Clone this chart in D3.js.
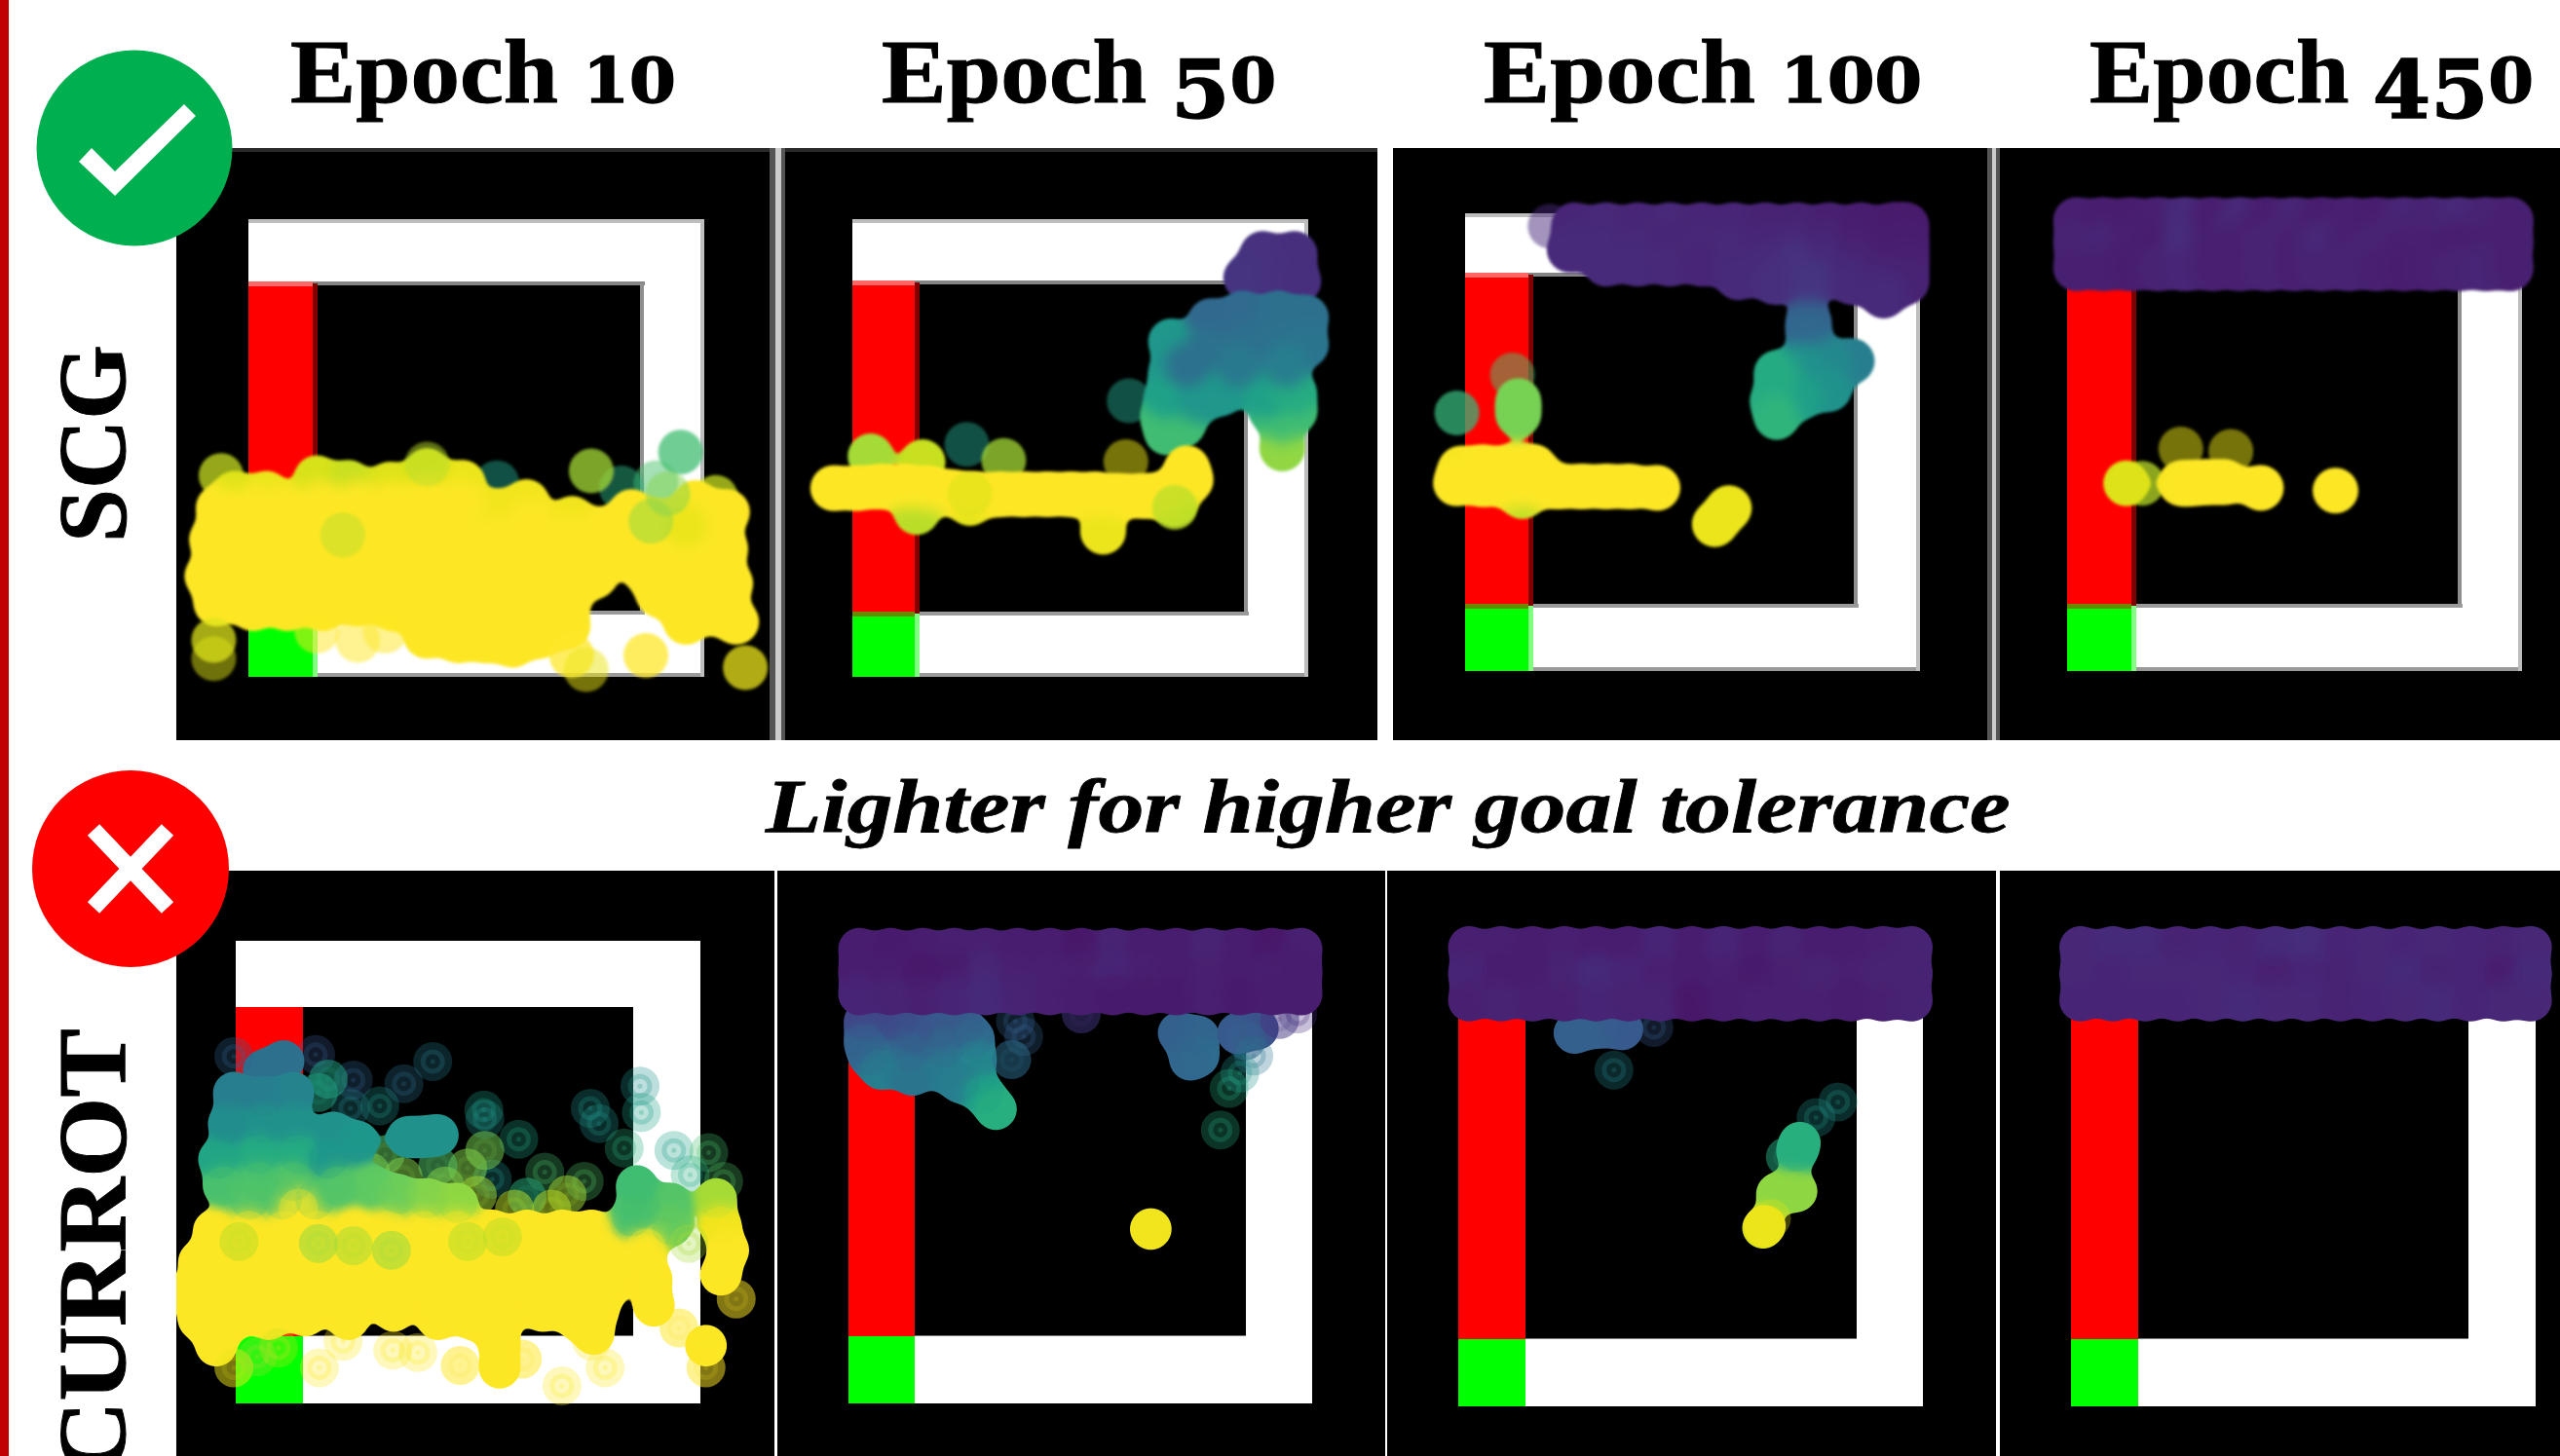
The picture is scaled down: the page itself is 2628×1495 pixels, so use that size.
<!DOCTYPE html>
<html><head><meta charset="utf-8">
<script src="https://cdn.jsdelivr.net/npm/d3@7"></script>
<style>html,body{margin:0;padding:0;background:#fff;overflow:hidden}svg{display:block}</style>
</head><body><svg id="c" width="2628" height="1495"></svg>
<script>
const epochLabels = ["Epoch 10","Epoch 50","Epoch 100","Epoch 450"];
const methodLabels = ["SCG","CURROT"];
const noteLabel = "Lighter for higher goal tolerance";

// each point: [x, y, goal tolerance colour value, number of rollouts at the spot]; x/y in percent of the maze
const scg10 = [
[94.8,50.9,.68,2],[89.4,57.6,.7,1],[81.8,58.7,.62,1],[54.5,57.6,.55,1],[75.2,55,.85,2],[102.5,60.8,.9,2],
[-6,56,.9,2],[-3,60,.93,3],[4,60,.95,4],[15,56.6,.92,3],[22,57.6,.9,3],[39.2,55,.92,3],[31,58,.93,3],[47,57.6,.95,3],[54.5,63.9,.96,4],[61,61.8,.96,4],[71,65.5,.96,4],
[-6.5,63,.98,5],[1,63,.98,5],[8.6,63,.98,5],[16.3,62,.98,5],[24,62,.98,5],[31.5,62,.98,5],[39,61,.98,5],[46.8,62,.98,5],[62,66,.98,5],[77.5,68,.98,4],
[-8,70,.98,5],[1,70,.98,5],[8.6,70,.98,5],[16.3,70,.98,5],[24,70,.98,5],[31.5,70,.98,5],[39,70,.98,5],[46.8,70,.98,5],[54.5,70,.98,5],[62,70,.98,5],[70,70,.98,5],[77.5,72,.98,5],
[-9,78,.98,5],[1,78,.98,5],[8.6,78,.98,5],[16.3,78,.98,5],[24,78,.98,5],[31.5,78,.98,5],[39,78,.98,5],[46.8,78,.98,5],[54.5,78,.98,5],[62,78,.98,5],[70,78,.98,5],[76,78,.98,5],
[-7,84,.98,4],[1,85,.98,5],[8.6,85,.98,5],[16.3,85,.98,4],[24,84,.98,4],[31.5,85,.98,4],[39,85,.98,5],[46.8,86,.98,5],[54.5,86,.98,5],[62,87,.98,5],[70,84,.98,5],
[39,91,.98,4],[46,92,.98,4],[52,92,.98,4],[58,93,.98,4],[64,91,.98,4],[70,89,.98,4],
[84,64,.98,4],[90,66,.98,4],[98,62,.98,3],[105,64,.98,4],[88,69,.98,4],[84,73,.98,4],[90.5,72,.98,3],[98,69,.98,3],[104.6,72,.98,4],[105.7,79.6,.98,4],[92,77,.98,4],[98,74,.98,4],[90,82,.98,4],[98,80,.98,4],[102.5,85.9,.98,3],[107,88,.98,3],[96,88,.98,3],[96,67,.95,3],[87.2,77,.98,3],
[70.9,95.3,.98,2],[87.2,95.3,.98,2],[74.1,98.4,.95,1],[109,98,.95,2],[-7.6,92,.93,2],[-7.6,96,.93,1],[24,92,.98,1],[15,90,.98,1],[30,90,.98,1],
[20.7,69,.88,1],[88.3,66,.82,1],[39.2,53.5,.88,1],[92,60,.8,1]
];
const scg50 = [
[90,7.6,.13,4],[97,7.6,.12,4],[86.4,12.8,.14,4],[93.4,12.8,.13,4],[97.8,13.6,.12,4],
[60.7,39.7,.55,1],[69,46.6,.68,4],[68.1,43.2,.68,4],[72.5,44.9,.68,4],[94.3,50.1,.82,5],[94.3,44,.68,4],[92,42,.68,4],[97,42,.68,4],
[69.9,26.7,.52,4],[69.9,33.6,.52,4],[69,38.8,.56,4],[76,39.7,.52,4],[90.8,38.8,.56,4],[96.9,38,.6,4],[81,38,.52,4],
[78.6,22.3,.33,4],[85.6,20.6,.34,4],[93.4,20.6,.36,4],[99.5,21.5,.36,4],[78,28.4,.37,4],[86.4,27.5,.36,4],[94.3,27.5,.37,4],[99.5,27.5,.38,4],[73.4,31.9,.37,3],[84.7,31.9,.4,4],[95.2,31.9,.42,4],
[25.1,49.2,.55,1],[4,51.8,.85,3],[15.4,53.1,.9,3],[33.2,52.7,.85,2],[60,53,.95,1],[14.1,64,.88,3],[25.8,62,.93,3],[55,68.3,.95,3],[70.7,62.3,.9,4],
[-4.2,58.8,.98,6],[1,58.8,.98,6],[6.2,58.4,.98,6],[11.4,58.4,.98,6],[16.7,58.8,.98,6],[21.9,59.7,.98,6],[27.1,60.1,.98,6],[32.4,60.1,.98,6],[37.6,60.1,.98,6],[42.8,60.1,.98,6],[48,60.1,.98,6],[53.3,60.1,.98,6],[58.5,60.5,.98,6],[63.8,60.5,.98,6],[69,60,.98,6],[73.4,54.4,.98,6],[74.2,57,.98,6],
[25.8,60,.92,1],[70.7,63,.88,2]
];
const scg100 = [
[18.7,2.8,.1,1],[23,8,.1,3],[24,2.6,.08,3],[24,7,.1,3],[31,2.6,.09,3],[31,7,.1,3],[31,11,.1,3],[38,2.6,.08,3],[38,7,.09,3],[38,11,.1,3],[45,2.6,.09,3],[45,7,.08,3],[45,11,.09,3],[52,2.6,.08,3],[52,7,.09,3],[52,11,.08,3],[59,2.6,.08,3],[59,7,.09,3],[59,11,.09,3],[66,2.6,.07,3],[66,7,.08,3],[66,11,.1,3],[73,2.6,.07,3],[73,7,.09,3],[73,11,.13,3],[80,2.6,.06,3],[80,7,.08,3],[80,11,.1,3],[87,2.6,.05,3],[87,7,.06,3],[87,11,.07,3],[94,2.6,.04,3],[94,7,.05,3],[94,11,.06,3],[97,2.6,.04,3],[97,7,.05,3],[97,11,.06,3],
[60,14,.1,3],[68,15,.12,3],[76,15,.14,3],[85,15,.1,3],[92,15,.08,3],[97,15,.07,3],[92,18,.1,3],
[75.5,23.6,.3,4],[75.5,26,.33,4],
[85,32.3,.42,4],[80,32.3,.46,4],[73.8,33.2,.5,4],[80,38.4,.5,4],[73.8,40.1,.55,4],[68.5,34.9,.6,4],[67.6,41,.6,4],[68.5,44.5,.64,4],
[10.4,35.3,.7,1],[-1.8,43.6,.65,2],[11.7,44,.78,4],[11.7,41,.78,4],
[12.6,61.8,.88,3],
[-1,55.8,.97,5],[3.9,55.5,.98,6],[10,55.5,.98,6],[15.2,55.5,.98,6],[-2,59,.98,6],[3.9,59.2,.98,6],[10,59.7,.98,6],[15.2,59.7,.98,6],[20.5,59.7,.98,6],[25.7,59.7,.98,6],[31,59.7,.98,6],[36.2,59.7,.98,6],[42.3,60,.98,6],
[58,64.4,.95,4],[54.9,67.9,.95,4]
];
const scg450 = [
[2,1.5,.06,4],[2,6.5,.07,4],[2,12,.06,4],[8,1.5,.05,4],[8,6.5,.08,4],[8,12,.06,4],[14,1.5,.05,4],[14,6.5,.06,4],[14,12,.05,4],[20,1.5,.06,4],[20,6.5,.05,4],[20,12,.07,4],
[26,1.5,.1,4],[26,6.5,.11,4],[26,12,.08,4],[32,1.5,.05,4],[32,6.5,.06,4],[32,12,.06,4],[38,1.5,.09,4],[38,6.5,.06,4],[38,12,.06,4],[44,1.5,.05,4],[44,6.5,.07,4],[44,12,.07,4],
[50,1.5,.08,4],[50,6.5,.06,4],[50,12,.06,4],[56,1.5,.05,4],[56,6.5,.09,4],[56,12,.07,4],[62,1.5,.06,4],[62,6.5,.06,4],[62,12,.07,4],[68,1.5,.05,4],[68,6.5,.07,4],[68,12,.06,4],
[74,1.5,.08,4],[74,6.5,.06,4],[74,12,.05,4],[80,1.5,.07,4],[80,6.5,.06,4],[80,12,.06,4],[86,1.5,.09,4],[86,6.5,.05,4],[86,12,.07,4],[92,1.5,.07,4],[92,6.5,.06,4],[92,12,.08,4],[97.5,1.5,.06,4],[97.5,6.5,.06,4],[97.5,12,.06,4],
[25,51.5,.95,1],[36,52,.95,1],[16.5,59,.88,2],[13,59,.93,6],
[25,59,.97,3],[30.6,58.7,.98,6],[34.7,58.7,.98,6],[42.6,60,.98,6],[59,60.6,.98,7],[27,59,.98,5]
];
const currot10 = [
[17.2,24.6,.28,1],[42.4,26.1,.4,1],[36.2,30.9,.36,1],[25.3,30.1,.32,1],[31,35.7,.5,1],[24.7,36.2,.45,1],[53.4,36.6,.55,1],[53.6,38.6,.5,1],[60.9,42.9,.58,1],[76.3,36.2,.5,1],[78.2,39.5,.5,1],[87,31.4,.5,1],[87.3,37.1,.55,1],[83.6,44.8,.62,1],[94.3,45.3,.55,1],[101.8,45.8,.7,1],[97.8,50.6,.6,1],[105,52,.72,1],[66.5,50,.7,1],[75,52,.72,1],[55.2,51.5,.5,1],
[62.7,55.4,.62,2],[71.3,54.9,.85,2],[53.6,45.3,.78,2],[49.9,49.1,.8,2],[43.5,48.6,.72,2],[32.2,46.2,.75,2],[15.6,43.4,.78,1],[.7,43.8,.72,2],[19.9,29.9,.58,2],[17.8,32.8,.58,2],
[22,48,.72,2],[29,50,.78,2],[36,51,.8,2],[45,53,.8,2],[52,55,.85,2],[60,58,.88,2],[68,58,.88,2],
[6,28,.36,3],[10.3,26,.36,3],[-.4,25,.32,1],[-.4,32.8,.42,4],[6,33.8,.42,4],[12.4,32.8,.44,4],[-1.5,39.5,.48,4],[6,39.5,.5,4],[12.4,39.5,.5,4],[21,41.4,.5,3],[26.3,43.4,.52,3],[-3.6,47.2,.58,3],[4.9,46.2,.6,4],[13.5,46.2,.6,4],[19.9,47.2,.52,3],[40.3,42.4,.5,3],[43.5,42,.5,3],[37,42.4,.5,3],
[-2.6,53,.7,4],[5,52,.7,4],[12.4,52,.72,4],[3,56,.72,3],[10,56,.72,3],[17,56,.72,3],[22,53,.72,3],[29.5,53,.74,3],[34.9,54.9,.76,3],[41.3,55.8,.8,3],[47.7,56.8,.82,3],
[86.3,53,.68,3],[87.3,57.8,.68,3],[93.7,56.8,.72,3],[85.2,59.7,.7,3],[93.7,61.6,.75,3],[103.4,55.8,.85,3],
[13.5,57.8,.98,6],[-4.7,62.6,.98,5],[2.8,62.6,.98,4],[10.3,62.6,.98,6],[17.8,62.6,.98,5],[25.3,62.6,.98,5],[32.8,62.6,.98,5],[40.3,62.6,.98,6],[47.7,62.6,.98,6],[55.2,62.6,.98,6],[62.7,62.6,.98,6],[70.2,62.6,.98,6],[76.6,62.6,.98,6],
[-7.9,69.3,.98,5],[-.4,69.3,.98,6],[7.1,69.3,.98,6],[14.6,69.3,.98,6],[22,69.3,.98,6],[29.5,69.3,.98,6],[37,69.3,.98,6],[44.5,69.3,.98,6],[52,69.3,.98,6],[59.4,69.3,.98,6],[67,69.3,.98,6],[74.4,69.3,.98,6],[79,67,.98,5],[82,69,.98,4],
[-10,76,.98,6],[-2.5,76,.98,6],[5,76,.98,6],[12.5,76,.98,6],[20,76,.98,6],[27.5,76,.98,6],[35,76,.98,6],[42.5,76,.98,6],[50,76,.98,6],[57.5,76,.98,6],[65,76,.98,6],[72.5,76,.98,6],[80,75,.98,4],
[-8,81.8,.98,4],[-.4,81.8,.98,6],[7.1,81.8,.98,6],[24.2,81.8,.98,4],[15,81,.98,4],[34,80,.98,4],[43.5,81.8,.98,4],[51,81.8,.98,5],[57.4,81.8,.98,5],[66,80,.98,4],[73.4,81.8,.98,5],[78,80,.98,4],[77,85,.98,4],
[-4.2,87.5,.98,3],[88.4,66.4,.98,3],[89.5,73.1,.98,3],[90,78.9,.98,3],[104.4,61.6,.96,4],[106,66.9,.98,3],[104.4,72.2,.98,3],[101.2,87.5,.98,3],[56.8,92.3,.98,3],[56.8,87.5,.98,3],
[-.4,92.3,.95,2],[4.6,89.9,.85,1],[9.2,88,.9,1],[18,92.3,.98,1],[23.1,86.6,.98,1],[33.8,88.5,.98,1],[39.2,89,.98,1],[48.3,91.8,.98,2],[70.2,96.2,.98,1],[79.5,92.3,.98,1],[61.7,90.4,.98,2],[76.6,86.6,.98,1],[95.4,83.7,.98,2],[101.2,92.3,.98,2],[107.7,77.4,.98,2],[97.5,65.4,.85,1],
[17.8,65.4,.82,2],[25.3,65.9,.85,2],[33.5,66.9,.82,2],[49.9,65,.87,2],[.7,65,.88,2],[57.4,64,.88,2]
];
const currot50 = [
[3.5,17.4,.2,3],[10.4,17.4,.22,3],[19,19,.27,3],[25,19,.27,3],[14,20,.25,3],[3.5,22,.3,3],[27,21,.33,3],[10,27,.38,3],[4.4,24.9,.32,3],[13,24,.32,3],[20.7,23.2,.33,3],[7,27.7,.42,3],[13.8,29,.38,3],[20.7,28.2,.4,3],[27.5,25.7,.45,4],[24.1,30.6,.42,3],[29.2,33.1,.55,5],[31.8,36.4,.62,7],
[36,17.4,.3,1],[37.8,20.7,.3,1],[35.2,25.7,.35,2],[71.2,19.9,.3,3],[75.5,20.7,.32,3],[75.5,24.9,.35,3],[73.7,25.7,.33,3],[50.2,15.8,.15,2],[88.3,19,.25,3],[84,20,.28,3],[85.7,21.6,.3,2],[87.4,24.9,.38,1],[84.4,28.6,.5,1],[96.9,15.8,.1,1],[93,17,.15,2],
[82.1,31.9,.6,1],[80.2,40.9,.6,1],[65.2,62.3,.96,12],
[2.3,1.7,.05,6],[2.3,6.7,.05,6],[2.3,11.6,.08,6],[9.1,1.7,.04,6],[9.1,6.7,.05,6],[9.1,11.6,.07,6],[16,1.7,.05,6],[16,6.7,.03,6],[16,11.6,.06,6],[22.8,1.7,.06,6],[22.8,6.7,.04,6],[22.8,11.6,.08,6],[29.6,1.7,.06,6],[29.6,6.7,.09,6],[29.6,11.6,.1,6],[36.5,1.7,.05,6],[36.5,6.7,.06,6],[36.5,11.6,.07,6],[43.4,1.7,.05,6],[43.4,6.7,.06,6],[43.4,11.6,.06,6],[50.2,1.7,.03,6],[50.2,6.7,.06,6],[50.2,11.6,.05,6],[57,1.7,.07,6],[57,6.7,.08,6],[57,11.6,.04,6],[63.9,1.7,.05,6],[63.9,6.7,.06,6],[63.9,11.6,.04,6],[70.7,1.7,.05,6],[70.7,6.7,.05,6],[70.7,11.6,.04,6],[77.6,1.7,.07,6],[77.6,6.7,.06,6],[77.6,11.6,.06,6],[84.4,1.7,.05,6],[84.4,6.7,.05,6],[84.4,11.6,.04,6],[91.3,1.7,.03,6],[91.3,6.7,.06,6],[91.3,11.6,.05,6],[97.7,1.7,.06,6],[97.7,6.7,.05,6],[97.7,11.6,.05,6]
];
const currot100 = [
[25,19.3,.3,3],[30.1,18.1,.3,3],[35.3,18.5,.28,3],[42.1,18.1,.28,1],[33.5,27.3,.45,1],[81.7,34.2,.5,1],[77,37.6,.5,1],[70.4,46.1,.6,2],[72.9,44.9,.62,5],[73.5,43,.62,3],
[68.6,54,.82,6],[70.5,53.5,.82,5],[72.8,53.5,.82,4],[65.6,61.4,.93,4],[67.4,59.4,.93,1],[66,61,.95,3],
[2.3,.7,.06,6],[2.3,6.5,.08,6],[2.3,12.3,.06,6],[9.2,.7,.06,6],[9.2,6.5,.05,6],[9.2,12.3,.07,6],[16,.7,.05,6],[16,6.5,.05,6],[16,12.3,.06,6],[22.9,.7,.06,6],[22.9,6.5,.07,6],[22.9,12.3,.06,6],[29.7,.7,.05,6],[29.7,6.5,.1,6],[29.7,12.3,.08,6],[36.6,.7,.05,6],[36.6,6.5,.08,6],[36.6,12.3,.07,6],[43.4,.7,.08,6],[43.4,6.5,.06,6],[43.4,12.3,.07,6],[50.3,.7,.05,6],[50.3,6.5,.05,6],[50.3,12.3,.03,6],[57.1,.7,.08,6],[57.1,6.5,.06,6],[57.1,12.3,.05,6],[64,.7,.05,6],[64,6.5,.04,6],[64,12.3,.06,6],[70.8,.7,.07,6],[70.8,6.5,.06,6],[70.8,12.3,.06,6],[77.7,.7,.05,6],[77.7,6.5,.07,6],[77.7,12.3,.06,6],[84.5,.7,.05,6],[84.5,6.5,.06,6],[84.5,12.3,.05,6],[91.4,.7,.06,6],[91.4,6.5,.07,6],[91.4,12.3,.06,6],[97.6,.7,.07,6],[97.6,6.5,.07,6],[97.6,12.3,.07,6]
];
const currot450 = [
[2,.7,.09,6],[2,6.5,.09,6],[2,12.3,.08,6],[9,.7,.1,6],[9,6.5,.08,6],[9,12.3,.08,6],[16,.7,.1,6],[16,6.5,.09,6],[16,12.3,.08,6],[23,.7,.07,6],[23,6.5,.09,6],[23,12.3,.08,6],[30,.7,.08,6],[30,6.5,.09,6],[30,12.3,.09,6],[37,.7,.07,6],[37,6.5,.08,6],[37,12.3,.1,6],[44,.7,.1,6],[44,6.5,.06,6],[44,12.3,.09,6],[51,.7,.11,6],[51,6.5,.08,6],[51,12.3,.09,6],[58,.7,.08,6],[58,6.5,.07,6],[58,12.3,.07,6],[65,.7,.09,6],[65,6.5,.09,6],[65,12.3,.08,6],[72,.7,.08,6],[72,6.5,.1,6],[72,12.3,.09,6],[79,.7,.09,6],[79,6.5,.07,6],[79,12.3,.1,6],[86,.7,.08,6],[86,6.5,.08,6],[86,12.3,.08,6],[93,.7,.07,6],[93,6.5,.05,6],[93,12.3,.09,6],[99,.7,.09,6],[99,6.5,.1,6],[99,12.3,.09,6]
];

const svg = d3.select("#c");
const defs = svg.append("defs");
defs.append("filter").attr("id","soft").attr("x","-30%").attr("y","-30%").attr("width","160%").attr("height","160%")
  .append("feGaussianBlur").attr("stdDeviation",1.8);
// merges neighbouring discs of one dense run into the continuous blob the reference shows
function gooFilter(id,finalBlur){
  const f=defs.append("filter").attr("id",id).attr("x","-30%").attr("y","-30%").attr("width","160%").attr("height","160%")
    .attr("color-interpolation-filters","sRGB");
  f.append("feGaussianBlur").attr("in","SourceGraphic").attr("stdDeviation",7).attr("result","b");
  f.append("feColorMatrix").attr("in","b").attr("type","matrix").attr("values","1 0 0 0 0  0 1 0 0 0  0 0 1 0 0  0 0 0 18 -7").attr("result","g");
  f.append("feGaussianBlur").attr("in","g").attr("stdDeviation",finalBlur);
}
gooFilter("gooLow",1.8);
gooFilter("gooHigh",0.7);

svg.append("rect").attr("x",0).attr("y",0).attr("width",9).attr("height",1495).attr("fill","#c00000");

const layouts = [
 {pts:scg10,   row:0, box:[181,152,790,760],  maze:[255,225,723,695],  inner:[321,291,658,629]},
 {pts:scg50,   row:0, box:[806,152,1414,760], maze:[875,225,1343,695], inner:[939,290,1278,630]},
 {pts:scg100,  row:0, box:[1430,152,2040,760],maze:[1504,219,1971,689],inner:[1569,282,1904,622]},
 {pts:scg450,  row:0, box:[2053,152,2628,760],maze:[2122,219,2589,689],inner:[2188,282,2524,622]},
 {pts:currot10,row:1, box:[181,894,795,1495], maze:[242,966,719,1441], inner:[311,1034,650,1372]},
 {pts:currot50,row:1, box:[798,894,1422,1495],maze:[871,966,1347,1441],inner:[939,1034,1279,1372]},
 {pts:currot100,row:1,box:[1424,894,2049,1495],maze:[1497,969,1974,1444],inner:[1566,1036,1906,1375]},
 {pts:currot450,row:1,box:[2053,894,2628,1495],maze:[2126,969,2603,1444],inner:[2195,1036,2534,1375]}
];

// seams between the stitched frames of the top row
[[790,6,"#555"],[796,6,"#ccc"],[802,5,"#555"],[2040,5,"#555"],[2045,4,"#ccc"],[2049,5,"#555"]].forEach(([x,w,c])=>{
  svg.append("rect").attr("x",x).attr("y",152).attr("width",w).attr("height",608).attr("fill",c);
});

function rect(g,x0,y0,x1,y1,f){return g.append("rect").attr("x",x0).attr("y",y0).attr("width",x1-x0).attr("height",y1-y0).attr("fill",f);}

const tone=d3.scaleLinear().domain([0,.2,.98]).range([.04,.2,1]).clamp(true);
layouts.forEach((p,i)=>{
  const [bx0,by0,bx1,by1]=p.box, [mx0,my0,mx1,my1]=p.maze, [ix0,iy0,ix1,iy1]=p.inner;
  const x=d3.scaleLinear().domain([0,100]).range([mx0,mx1]);
  const y=d3.scaleLinear().domain([0,100]).range([my0,my1]);
  const low = p.row===0;
  defs.append("clipPath").attr("id","clip"+i).append("rect").attr("x",bx0).attr("y",by0).attr("width",bx1-bx0).attr("height",by1-by0);
  const g=svg.append("g").attr("clip-path","url(#clip"+i+")");
  rect(g,bx0,by0,bx1,by1,"#000");
  if(low && i!==2 && i!==3) rect(g,bx0,by0,bx1,by0+4,"#2a2a2a");
  // white corridor
  rect(g,mx0,my0,mx1,iy0,"#fff");
  rect(g,ix1,my0,mx1,my1,"#fff");
  rect(g,ix0,iy1,mx1,my1,"#fff");
  rect(g,mx0,iy0,ix0,iy1,"#f00");
  rect(g,mx0,iy1,ix0,my1,"#0f0");
  if(low){
    const e=4;
    rect(g,mx0,my0,mx1,my0+e,"#bdbdbd");
    rect(g,ix0,iy0-2,ix1+e,iy0+2,"#858585");
    rect(g,ix1-1,iy0,ix1+e-1,iy1,"#8f8f8f");
    rect(g,ix0,iy1-2,ix1+e,iy1+2,"#9a9a9a");
    rect(g,ix0,my1-e,mx1,my1,"#9a9a9a");
    rect(g,mx1-e,my0,mx1,my1,"#bdbdbd");
    rect(g,ix0,iy0,ix0+5,iy1,"#800000");
    rect(g,ix0,iy1,ix0+5,my1,"#80ff80");
    rect(g,mx0,iy0-2,ix0,iy0+3,"#ff6666");
    rect(g,mx0,iy1-2,ix0,iy1+3,"#6b8a00");
  } else {
    rect(g,ix0,iy1-1,ix1,iy1,"#777");
  }
  const alpha=low?0.5:0.3, R=low?23:20, RD=low?23:21;
  const op=n=>1-Math.pow(1-alpha,n);
  const col=d=>d3.interpolateViridis(tone(d[2]));
  // consecutive dense points form one blob, thin points stay single discs, array order is kept
  const runs=[];
  p.pts.forEach(d=>{
    const dense=d[3]>=3, last=runs[runs.length-1];
    if(last && last.dense===dense) last.items.push(d); else runs.push({dense,items:[d]});
  });
  runs.forEach(run=>{
    if(run.dense){
      const b=g.append("g").attr("filter",`url(#${low?"gooLow":"gooHigh"})`);
      b.selectAll("circle").data(run.items).join("circle")
        .attr("cx",d=>x(d[0])).attr("cy",d=>y(d[1])).attr("r",RD).attr("fill",col);
      if(!low){
        g.append("g").selectAll("circle").data(run.items).join("circle")
          .attr("cx",d=>x(d[0])).attr("cy",d=>y(d[1])).attr("r",RD-1).attr("fill",col).attr("fill-opacity",.3);
      }
    } else {
      const m=g.append("g");
      if(low) m.attr("filter","url(#soft)");
      run.items.forEach(d=>{
        const s=m.append("g").attr("transform",`translate(${x(d[0])},${y(d[1])})`);
        s.append("circle").attr("r",R).attr("fill",col(d)).attr("fill-opacity",op(d[3]));
        if(!low){
          const ring=d[3]===1?.9:.3;
          s.append("circle").attr("r",10).attr("fill","none").attr("stroke",col(d)).attr("stroke-width",5).attr("stroke-opacity",op(d[3])*ring);
          s.append("circle").attr("r",2.5).attr("fill",col(d)).attr("fill-opacity",op(d[3])*ring);
        }
      });
    }
  });
});

// labels: the old-style figures of the reference are imitated with smaller / dropped digits
function fit(t,x,y,w,rot){
  const n=t.node().getComputedTextLength();
  t.attr("transform",`translate(${x},${y})`+(rot?" rotate(-90)":"")+` scale(${w/n},1)`);
}
function epochText(label,x0,x1,base){
  const t=svg.append("text").attr("x",0).attr("y",0).attr("fill","#000").attr("stroke","#000").attr("stroke-width",1)
    .attr("font-family","'Liberation Serif'").attr("font-weight",700).attr("font-size",94);
  const [word,num]=label.split(" ");
  t.append("tspan").text(word+" ");
  let shift=0;
  [...num].forEach(ch=>{
    const drop=(ch==="5"||ch==="4");
    const target=drop?16:0;
    t.append("tspan").attr("dy",target-shift).attr("font-family","'DejaVu Serif'")
      .attr("font-size",drop?82:64).attr("stroke-width",1.5).text(ch);
    shift=target;
  });
  fit(t,x0,base,x1-x0,false);
}
const epochSpans=[[298,694],[905,1310],[1523,1973],[2145,2601]];
epochLabels.forEach((l,i)=>epochText(l,epochSpans[i][0],epochSpans[i][1],105));

const note=svg.append("text").attr("fill","#000").attr("stroke","#000").attr("stroke-width",.8)
  .attr("font-family","'Liberation Serif'").attr("font-weight",700).attr("font-style","italic").attr("font-size",78).text(noteLabel);
fit(note,786,854,1278,false);

const m1=svg.append("text").attr("fill","#000").attr("stroke","#000").attr("stroke-width",1)
  .attr("font-family","'Liberation Serif'").attr("font-weight",700).attr("font-size",100).text(methodLabels[0]);
fit(m1,128,557,203,true);
const m2=svg.append("text").attr("fill","#000").attr("stroke","#000").attr("stroke-width",1)
  .attr("font-family","'Liberation Serif'").attr("font-weight",700).attr("font-size",100).text(methodLabels[1]);
fit(m2,128,1515,459,true);

// verdict badges
const ok=svg.append("g").attr("transform","translate(138,152)");
ok.append("circle").attr("r",100.5).attr("fill","#00b050");
ok.append("polygon").attr("fill","#fff").attr("points","-57,14 -44,0 -20,24 51,-45 63,-33 -20,49");
const no=svg.append("g").attr("transform","translate(134,892)");
no.append("circle").attr("r",101).attr("fill","#f00");
no.append("path").attr("d","M-38,-40 L38,40 M38,-40 L-38,40").attr("stroke","#fff").attr("stroke-width",17).attr("fill","none");
</script></body></html>
